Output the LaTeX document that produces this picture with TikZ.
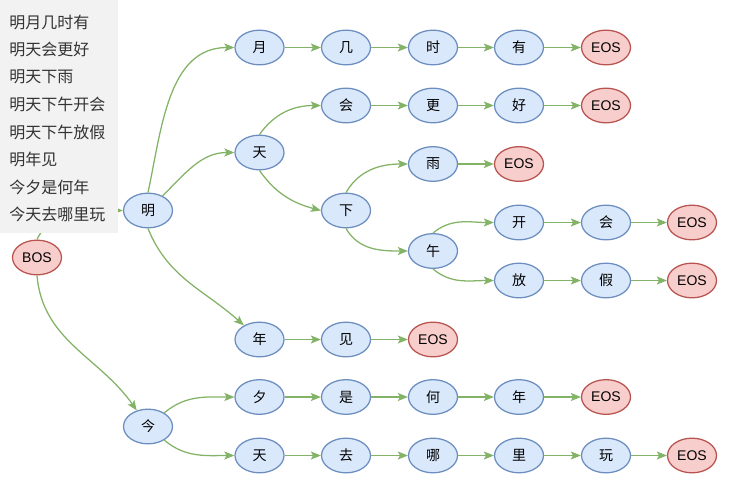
\documentclass[tikz,border=0pt]{standalone}
\usepackage{fontspec}
\setmainfont{Liberation Sans}
\newfontfamily\cjk{Noto Sans CJK SC}
\usetikzlibrary{shapes.geometric,arrows.meta}
\definecolor{bfill}{HTML}{DAE8FC}
\definecolor{bstroke}{HTML}{6C8EBF}
\definecolor{rfill}{HTML}{F8CECC}
\definecolor{rstroke}{HTML}{B85450}
\definecolor{gline}{HTML}{82B366}
\definecolor{panelfill}{HTML}{F2F2F2}
\definecolor{paneltext}{HTML}{333333}
\begin{document}
\begin{tikzpicture}[x=0.75pt,y=-0.75pt,
  wnode/.style={ellipse,draw=bstroke,fill=bfill,line width=0.95pt,minimum width=36.75pt,minimum height=26pt,inner sep=0pt,font=\cjk\fontsize{10.5}{12}\selectfont},
  enode/.style={wnode,draw=rstroke,fill=rfill,font=\fontsize{10.5}{12}\selectfont},
  conn/.style={draw=gline,line width=0.95pt,-{Stealth[length=7.5pt,width=6pt,inset=1.6pt]}},
  ptext/.style={anchor=west,inner sep=0pt,text=paneltext,font=\cjk\fontsize{12}{14}\selectfont}
]
\useasboundingbox (0,0) rectangle (729,486);
% nodes
\node[enode] (bos) at (37,257.5) {BOS};
\node[wnode] (ming) at (148,210.5) {明};
\node[wnode] (jin) at (148,426.5) {今};
% row 1
\node[wnode] (yue) at (259.5,47.5) {月};
\node[wnode] (ji) at (346,47.5) {几};
\node[wnode] (shi) at (433,47.5) {时};
\node[wnode] (you) at (519,47.5) {有};
\node[enode] (eosA) at (606,47.5) {EOS};
% row 2
\node[wnode] (hui) at (346,105.5) {会};
\node[wnode] (geng) at (433,105.5) {更};
\node[wnode] (hao) at (519,105.5) {好};
\node[enode] (eosB) at (606,105.5) {EOS};
% tian
\node[wnode] (tian) at (259.5,152.5) {天};
\node[wnode] (yu) at (433,164) {雨};
\node[enode] (eosC) at (519,164) {EOS};
\node[wnode] (xia) at (346,210.5) {下};
\node[wnode] (wu) at (433,251) {午};
\node[wnode] (kai) at (519,222.5) {开};
\node[wnode] (hui2) at (606,222.5) {会};
\node[enode] (eosD) at (692,222.5) {EOS};
\node[wnode] (fang) at (519,280.5) {放};
\node[wnode] (jia) at (606,280.5) {假};
\node[enode] (eosE) at (692,280.5) {EOS};
% nian jian
\node[wnode] (nian) at (259.5,339.5) {年};
\node[wnode] (jian) at (346,339.5) {见};
\node[enode] (eosF) at (433,339.5) {EOS};
% jin branch
\node[wnode] (xi) at (259.5,397) {夕};
\node[wnode] (shi2) at (346,397) {是};
\node[wnode] (he) at (433,397) {何};
\node[wnode] (nian2) at (519,397) {年};
\node[enode] (eosG) at (606,397) {EOS};
\node[wnode] (tian2) at (259.5,455.5) {天};
\node[wnode] (qu) at (346,455.5) {去};
\node[wnode] (na) at (433,455.5) {哪};
\node[wnode] (li) at (519,455.5) {里};
\node[wnode] (wan) at (606,455.5) {玩};
\node[enode] (eosH) at (692,455.5) {EOS};
% curved edges
\draw[conn] (bos.north) to[out=65,in=180] (ming.west);
\draw[conn] (bos.south) to[out=-85,in=125] (jin);
\draw[conn] (ming.north) to[out=78,in=180] (yue.west);
\draw[conn] (ming) to[out=45,in=180] (tian.west);
\draw[conn] (ming.south) to[out=-68,in=138] (nian);
\draw[conn] (jin) to[out=40,in=180] (xi.west);
\draw[conn] (jin) to[out=-40,in=180] (tian2.west);
\draw[conn] (tian.north) to[out=55,in=180] (hui.west);
\draw[conn] (tian.south) to[out=-55,in=165] (xia.west);
\draw[conn] (xia.north) to[out=60,in=180] (yu.west);
\draw[conn] (xia.south) to[out=-60,in=180] (wu.west);
\draw[conn] (wu.north) to[out=40,in=180] (kai.west);
\draw[conn] (wu.south) to[out=-40,in=180] (fang.west);
% straight edges
\draw[conn] (yue) -- (ji);
\draw[conn] (ji) -- (shi);
\draw[conn] (shi) -- (you);
\draw[conn] (you) -- (eosA);
\draw[conn] (hui) -- (geng);
\draw[conn] (geng) -- (hao);
\draw[conn] (hao) -- (eosB);
\draw[conn] (yu) -- (eosC);
\draw[conn] (kai) -- (hui2);
\draw[conn] (hui2) -- (eosD);
\draw[conn] (fang) -- (jia);
\draw[conn] (jia) -- (eosE);
\draw[conn] (nian) -- (jian);
\draw[conn] (jian) -- (eosF);
\draw[conn] (xi) -- (shi2);
\draw[conn] (shi2) -- (he);
\draw[conn] (he) -- (nian2);
\draw[conn] (nian2) -- (eosG);
\draw[conn] (tian2) -- (qu);
\draw[conn] (qu) -- (na);
\draw[conn] (na) -- (li);
\draw[conn] (li) -- (wan);
\draw[conn] (wan) -- (eosH);
% panel
\fill[panelfill] (0,0) rectangle (118,233);
\node[ptext] (p1) at (9,22) {明月几时有};
\node[ptext] (p2) at (9,49.5) {明天会更好};
\node[ptext] (p3) at (9,77) {明天下雨};
\node[ptext] (p4) at (9,104.5) {明天下午开会};
\node[ptext] (p5) at (9,132) {明天下午放假};
\node[ptext] (p6) at (9,159.5) {明年见};
\node[ptext] (p7) at (9,187) {今夕是何年};
\node[ptext] (p8) at (9,214.5) {今天去哪里玩};
\end{tikzpicture}
\end{document}
